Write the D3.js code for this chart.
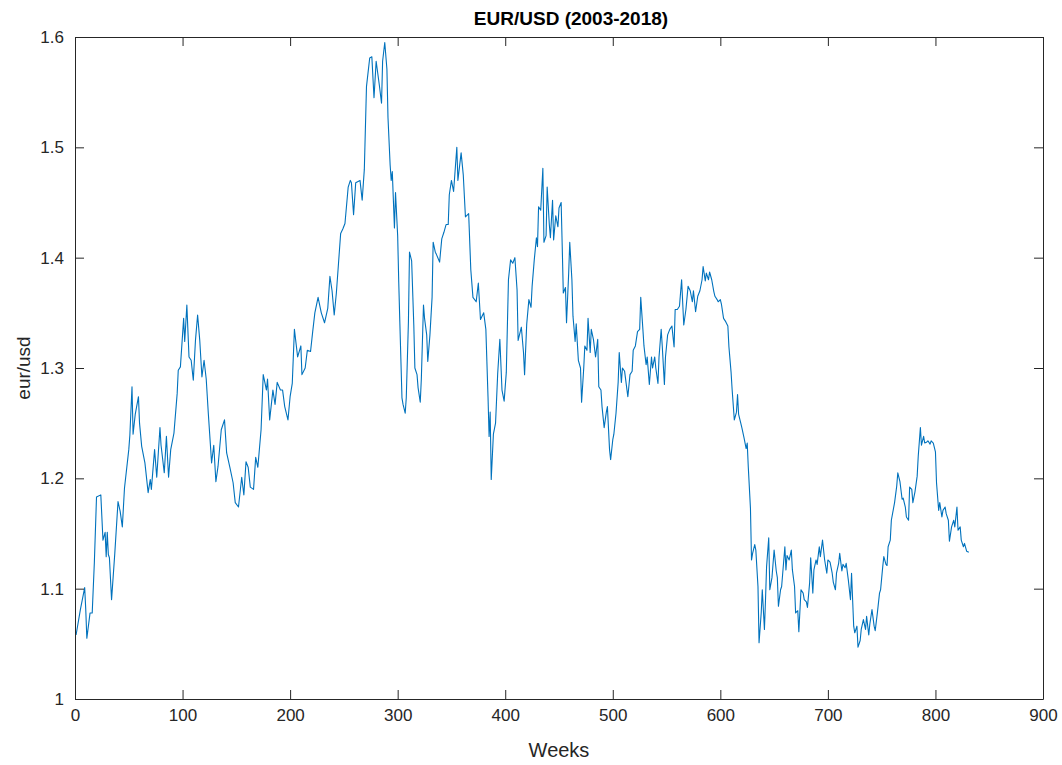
<!DOCTYPE html>
<html><head><meta charset="utf-8">
<script src="https://cdn.jsdelivr.net/npm/d3@7"></script>
<style>body{margin:0;background:#fff;} svg{display:block;}</style>
</head><body>
<script>
const weeks = [1,5,9,10,11,14,16,18,20,24,26,28,29,30,31,32,34,37,40,42,44,46,50,51,53,54,56,59,60,62,65,68,70,71,74,76,79,80,83,85,87,89,92,95,96,98,101,102,104,106,108,110,112,114,116,118,120,122,124,127,129,131,133,136,139,141,144,147,149,152,155,157,159,161,163,166,168,170,173,175,178,179,181,184,186,188,191,193,195,198,200,202,204,207,210,211,214,216,219,221,223,226,229,232,235,237,239,241,243,245,247,249,251,254,256,257,259,261,265,267,269,271,274,276,278,280,283,285,286,288,290,291,293,294,295,297,298,300,301,302,304,305,307,308,310,311,313,315,316,318,319,321,322,324,325,327,328,330,332,333,335,336,339,341,343,345,347,348,350,352,355,356,359,361,363,366,368,370,373,375,377,380,382,384,385,386,387,389,391,393,395,397,399,401,403,405,407,409,411,412,415,417,418,420,422,424,425,427,429,430,431,433,435,436,438,439,441,442,444,445,447,449,450,452,453,454,456,457,459,460,462,463,465,466,468,470,471,473,474,476,477,479,480,482,484,486,487,489,490,492,494,495,497,498,500,501,503,505,506,508,509,511,514,516,518,519,521,523,525,526,528,529,531,532,534,536,537,539,540,542,543,545,546,548,549,551,553,555,557,558,560,562,564,566,568,570,572,574,575,577,579,581,583,584,586,587,589,590,592,594,595,597,598,600,601,603,605,607,608,610,611,613,615,616,617,619,620,622,624,625,626,628,629,630,632,633,635,636,638,639,641,642,643,645,646,648,650,652,653,654,656,657,659,660,661,662,664,666,667,669,670,672,673,675,677,678,680,681,683,684,686,687,689,690,692,693,695,697,699,700,702,704,705,707,708,710,711,713,714,716,717,719,721,722,724,725,727,728,730,731,733,735,736,738,739,741,743,744,746,748,749,751,752,754,755,756,758,759,762,764,765,767,769,770,772,773,775,776,778,779,781,783,784,786,787,789,790,792,793,795,796,798,800,801,803,804,806,807,809,810,812,813,815,817,818,820,821,823,824,826,827,829,831];
const rates = [1.058,1.081,1.101,1.081,1.055,1.078,1.078,1.124,1.183,1.185,1.144,1.151,1.129,1.151,1.131,1.128,1.090,1.132,1.179,1.170,1.156,1.191,1.226,1.239,1.283,1.240,1.258,1.274,1.250,1.229,1.214,1.187,1.199,1.190,1.226,1.201,1.246,1.230,1.205,1.238,1.201,1.226,1.241,1.277,1.298,1.301,1.345,1.324,1.357,1.310,1.307,1.289,1.325,1.348,1.325,1.292,1.307,1.290,1.258,1.214,1.230,1.197,1.211,1.244,1.253,1.223,1.210,1.196,1.178,1.174,1.201,1.185,1.215,1.210,1.192,1.190,1.219,1.210,1.244,1.294,1.280,1.290,1.253,1.280,1.267,1.287,1.280,1.280,1.265,1.253,1.274,1.286,1.335,1.310,1.320,1.294,1.300,1.316,1.315,1.333,1.350,1.364,1.350,1.341,1.354,1.383,1.370,1.348,1.368,1.395,1.422,1.426,1.431,1.464,1.470,1.468,1.439,1.468,1.470,1.452,1.480,1.555,1.581,1.582,1.545,1.578,1.556,1.540,1.578,1.595,1.571,1.527,1.484,1.470,1.478,1.427,1.459,1.420,1.378,1.342,1.273,1.267,1.259,1.273,1.342,1.405,1.397,1.339,1.300,1.294,1.282,1.269,1.290,1.357,1.345,1.330,1.306,1.330,1.364,1.414,1.405,1.403,1.396,1.417,1.423,1.430,1.430,1.457,1.470,1.460,1.500,1.470,1.495,1.475,1.437,1.440,1.389,1.364,1.360,1.377,1.344,1.350,1.335,1.274,1.238,1.260,1.199,1.240,1.250,1.295,1.326,1.280,1.270,1.296,1.380,1.398,1.395,1.400,1.371,1.325,1.337,1.314,1.294,1.340,1.362,1.355,1.374,1.398,1.418,1.410,1.446,1.443,1.481,1.414,1.420,1.464,1.430,1.418,1.452,1.416,1.438,1.428,1.445,1.450,1.410,1.368,1.373,1.341,1.386,1.414,1.380,1.347,1.324,1.340,1.307,1.300,1.269,1.300,1.320,1.316,1.345,1.314,1.335,1.326,1.310,1.326,1.283,1.280,1.265,1.246,1.260,1.265,1.226,1.217,1.235,1.240,1.259,1.287,1.314,1.287,1.300,1.297,1.274,1.294,1.297,1.316,1.320,1.333,1.335,1.364,1.335,1.320,1.303,1.310,1.285,1.310,1.300,1.310,1.300,1.286,1.310,1.335,1.320,1.285,1.310,1.330,1.335,1.338,1.319,1.353,1.353,1.356,1.380,1.339,1.353,1.374,1.370,1.360,1.370,1.351,1.365,1.370,1.380,1.392,1.379,1.386,1.380,1.387,1.380,1.369,1.365,1.362,1.360,1.362,1.358,1.345,1.342,1.338,1.319,1.296,1.280,1.253,1.260,1.276,1.258,1.250,1.246,1.237,1.227,1.232,1.210,1.173,1.126,1.132,1.140,1.135,1.102,1.051,1.078,1.099,1.063,1.090,1.120,1.146,1.099,1.110,1.135,1.116,1.110,1.084,1.099,1.102,1.126,1.138,1.117,1.130,1.126,1.135,1.117,1.102,1.078,1.080,1.061,1.099,1.096,1.090,1.088,1.083,1.105,1.128,1.096,1.117,1.126,1.122,1.138,1.129,1.144,1.126,1.114,1.126,1.124,1.114,1.106,1.099,1.114,1.123,1.132,1.116,1.122,1.119,1.123,1.108,1.090,1.114,1.066,1.060,1.066,1.047,1.053,1.063,1.072,1.063,1.075,1.058,1.068,1.081,1.066,1.062,1.078,1.096,1.099,1.120,1.129,1.122,1.121,1.138,1.144,1.162,1.178,1.193,1.205,1.197,1.181,1.182,1.174,1.165,1.162,1.192,1.190,1.178,1.188,1.202,1.220,1.246,1.230,1.238,1.232,1.233,1.234,1.231,1.234,1.232,1.224,1.196,1.171,1.178,1.165,1.171,1.174,1.168,1.162,1.143,1.156,1.162,1.156,1.174,1.153,1.156,1.144,1.138,1.141,1.134,1.133];
const xTicks = [0,100,200,300,400,500,600,700,800,900];
const yTicks = [1,1.1,1.2,1.3,1.4,1.5,1.6];
const titleText = "EUR/USD (2003-2018)";
const xLabel = "Weeks";
const yLabel = "eur/usd";

const W = 1062, H = 765;
const m = {left: 75, right: 19, top: 37, bottom: 66};
const svg = d3.select("body").append("svg").attr("width", W).attr("height", H);
const x = d3.scaleLinear().domain([0, 900]).range([m.left, W - m.right]);
const y = d3.scaleLinear().domain([1, 1.6]).range([H - m.bottom, m.top]);
const axisColor = "#262626";
const font = "'Liberation Sans', Arial, Helvetica, sans-serif";
const tk = 9;

const data = weeks.map((w, i) => [w, rates[i]]);
svg.append("path").datum(data)
  .attr("fill", "none").attr("stroke", "#0072BD").attr("stroke-width", 1.1)
  .attr("stroke-linejoin", "round")
  .attr("d", d3.line().x(d => x(d[0])).y(d => y(d[1])));

function styleAxis(g, labels) {
  g.select(".domain").attr("stroke", axisColor).attr("stroke-width", 1);
  g.selectAll(".tick line").attr("stroke", axisColor).attr("stroke-width", 1);
  g.selectAll(".tick text").attr("fill", labels ? axisColor : "none")
    .style("font-family", font).style("font-size", "17px");
}
const bottom = svg.append("g").attr("transform", `translate(0,${H - m.bottom})`)
  .call(d3.axisBottom(x).tickValues(xTicks).tickSizeInner(-tk).tickSizeOuter(0).tickPadding(10).tickFormat(d3.format("d")));
styleAxis(bottom, true);
const top_ = svg.append("g").attr("transform", `translate(0,${m.top})`)
  .call(d3.axisTop(x).tickValues(xTicks).tickSizeInner(-tk).tickSizeOuter(0).tickFormat(""));
styleAxis(top_, false);
const left = svg.append("g").attr("transform", `translate(${m.left},0)`)
  .call(d3.axisLeft(y).tickValues(yTicks).tickSizeInner(-tk).tickSizeOuter(0).tickPadding(11)
    .tickFormat(d => d === 1 ? "1" : d3.format(".1f")(d)));
styleAxis(left, true);
const right = svg.append("g").attr("transform", `translate(${W - m.right},0)`)
  .call(d3.axisRight(y).tickValues(yTicks).tickSizeInner(-tk).tickSizeOuter(0).tickFormat(""));
styleAxis(right, false);

svg.append("text").attr("x", (m.left + W - m.right) / 2 + 12).attr("y", 25)
  .attr("text-anchor", "middle").attr("fill", "#000").style("font-family", font)
  .style("font-size", "19px").style("font-weight", "bold").text(titleText);
svg.append("text").attr("x", (m.left + W - m.right) / 2).attr("y", 757)
  .attr("text-anchor", "middle").attr("fill", axisColor).style("font-family", font)
  .style("font-size", "20px").text(xLabel);
svg.append("text").attr("transform", `translate(30,${(m.top + H - m.bottom) / 2}) rotate(-90)`)
  .attr("text-anchor", "middle").attr("fill", axisColor).style("font-family", font)
  .style("font-size", "19px").text(yLabel);
</script>
</body></html>
